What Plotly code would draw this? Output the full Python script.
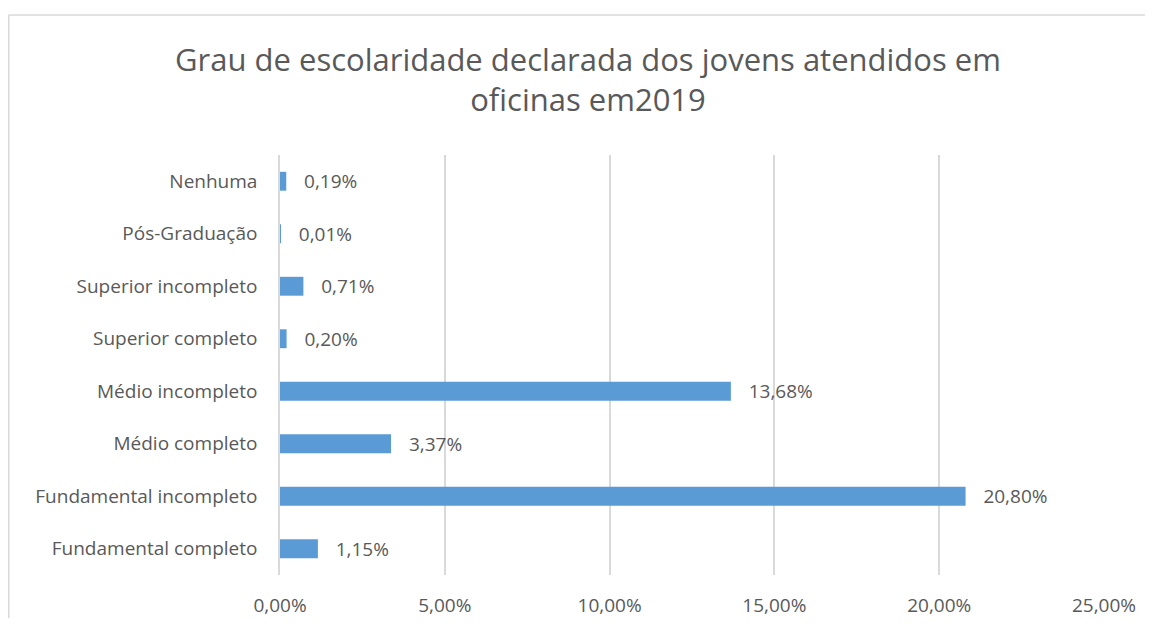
import plotly.graph_objects as go

categories = ["Fundamental completo", "Fundamental incompleto", "Médio completo",
              "Médio incompleto", "Superior completo", "Superior incompleto",
              "Pós-Graduação", "Nenhuma"]
values = [1.15, 20.80, 3.37, 13.68, 0.20, 0.71, 0.01, 0.19]
labels = ["1,15%", "20,80%", "3,37%", "13,68%", "0,20%", "0,71%", "0,01%", "0,19%"]
tick_vals = [0, 5, 10, 15, 20, 25]
tick_text = ["0,00%", "5,00%", "10,00%", "15,00%", "20,00%", "25,00%"]
title_text = "Grau de escolaridade declarada dos jovens atendidos em<br>oficinas em2019"

# page body has an 8px margin; keep figure inside the window
W, H = 1137, 610
L, R, T, B = 272, 41, 147, 43
pw, ph = W - L - R, H - T - B

font = "Open Sans, Segoe UI, sans-serif"
gray = "#595959"
border = "#d9d9d9"

fig = go.Figure(go.Bar(
    y=categories, x=values, orientation="h",
    marker=dict(color="#5B9BD5", line=dict(width=0)),
    text=labels, texttemplate="\u00a0\u00a0\u00a0%{text}",
    textposition="outside", cliponaxis=False,
    constraintext="none",
    textfont=dict(family=font, size=19, color=gray),
))

fig.update_layout(
    width=W, height=H,
    margin=dict(l=L, r=R, t=T, b=B, autoexpand=False),
    paper_bgcolor="white", plot_bgcolor="white",
    bargap=0.64,
    showlegend=False,
    title=dict(text=title_text, x=(588 - 8) / W, xref="container", xanchor="center",
               y=1 - 63 / H, yanchor="middle",
               font=dict(family=font, size=31, color=gray)),
    xaxis=dict(range=[0, 25], tickvals=tick_vals, ticktext=tick_text,
               showgrid=True, gridcolor=border, gridwidth=1.5,
               zeroline=False, showline=False, ticks="",
               tickfont=dict(family=font, size=19, color=gray),
               ticklabelstandoff=17),
    yaxis=dict(showline=True, linecolor=border, linewidth=1.5,
               showgrid=False, ticks="", ticklabelstandoff=17,
               tickfont=dict(family=font, size=19, color=gray)),
    font=dict(family=font, color=gray),
)

# outer chart border (Excel chart area): left and top edges only
bx = (0.75 - L) / pw
by = (H - B - 7) / ph
fig.add_shape(type="line", xref="paper", yref="paper",
              x0=bx, x1=bx, y0=(-B - 5) / ph, y1=by,
              line=dict(color=border, width=1.5), layer="below")
fig.add_shape(type="line", xref="paper", yref="paper",
              x0=bx, x1=(W - L) / pw, y0=by, y1=by,
              line=dict(color=border, width=1.5), layer="below")

fig.write_html("out.html")
